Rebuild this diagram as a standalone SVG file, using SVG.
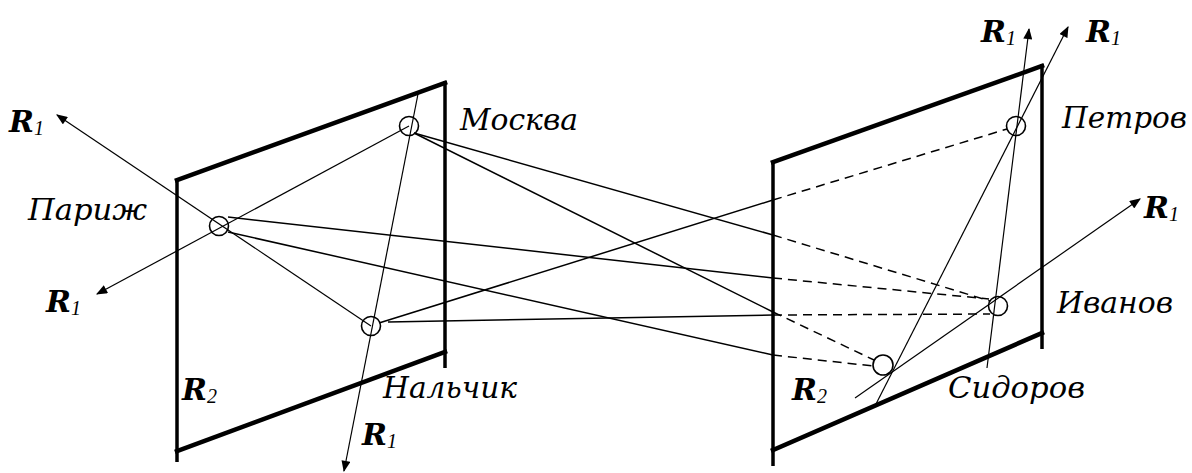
<svg xmlns="http://www.w3.org/2000/svg" width="1192" height="473" viewBox="0 0 1192 473">
<style>
.frame{stroke:#000;stroke-width:4.5;fill:none;stroke-linecap:square}
.vert{stroke:#000;stroke-width:3.5;fill:none}
.ray{stroke:#000;stroke-width:1.2;fill:none}
.con{stroke:#000;stroke-width:1.5;fill:none}
.dash{stroke:#000;stroke-width:1.5;fill:none;stroke-dasharray:9 6}
.node{stroke:#000;stroke-width:1.6;fill:none}
.lbl{font-family:"DejaVu Serif",serif;font-style:italic;font-size:30px;fill:#000}
.r{font-family:"DejaVu Serif",serif;font-style:italic;font-weight:bold;font-size:30px;fill:#000}
.sub{font-family:"Liberation Serif",serif;font-style:italic;font-weight:normal;font-size:20px}
</style>
<defs>
<marker id="arr" viewBox="0 0 10 8" refX="9" refY="4" markerWidth="12" markerHeight="9" orient="auto" markerUnits="userSpaceOnUse">
<path d="M0,0 L10,4 L0,8 z" fill="#000"/>
</marker>
</defs>

<g id="panel-left">
<line class="vert" x1="177" y1="180" x2="177" y2="462"/>
<line class="frame" x1="177" y1="180" x2="445" y2="83"/>
<line class="vert" x1="445" y1="81" x2="445" y2="368"/>
<line class="frame" x1="177" y1="451" x2="445" y2="352"/>
<text class="r" x="182" y="400">R<tspan class="sub" dy="3">2</tspan></text>
</g>

<g id="panel-right">
<line class="vert" x1="773" y1="162" x2="773" y2="466"/>
<line class="frame" x1="773" y1="162" x2="1042" y2="66"/>
<line class="vert" x1="1042" y1="64" x2="1042" y2="349"/>
<line class="frame" x1="773" y1="450" x2="1042" y2="333"/>
<text class="r" x="792" y="400">R<tspan class="sub" dy="3">2</tspan></text>
</g>

<g id="connectors">
<path class="ray" d="M371,326 L57,115" marker-end="url(#arr)"/>
<path class="ray" d="M409,126 L97,294" marker-end="url(#arr)"/>
<path class="ray" d="M418,94 L344,471" marker-end="url(#arr)"/>
<path class="ray" d="M987,368 L1029,29" marker-end="url(#arr)"/>
<path class="ray" d="M876,404 L1068,27" marker-end="url(#arr)"/>
<path class="ray" d="M855,398 L1140,199" marker-end="url(#arr)"/>

<path class="con" d="M414,133 L773,235"/>
<path class="dash" d="M773,235 L990,301"/>
<path class="con" d="M414,133 L773,312"/>
<path class="dash" d="M773,312 L874,360"/>
<path class="con" d="M228,217 L773,278"/>
<path class="dash" d="M773,278 L989,299"/>
<path class="con" d="M228,232 L773,355"/>
<path class="dash" d="M773,355 L873,366"/>
<path class="con" d="M388,322 L773,315"/>
<path class="dash" d="M773,315 L990,314"/>
<path class="con" d="M379,323 L773,200"/>
<path class="dash" d="M773,200 L1007,129"/>
</g>

<g id="node-parizh">
<circle class="node" cx="219" cy="226" r="9.5"/>
<text class="lbl" x="28" y="220" textLength="119" lengthAdjust="spacingAndGlyphs">Париж</text>
</g>
<g id="node-moskva">
<circle class="node" cx="409" cy="126" r="9.5"/>
<text class="lbl" x="460" y="130" textLength="118" lengthAdjust="spacingAndGlyphs">Москва</text>
</g>
<g id="node-nalchik">
<circle class="node" cx="371" cy="326" r="9.5"/>
<text class="lbl" x="383" y="398" textLength="134" lengthAdjust="spacingAndGlyphs">Нальчик</text>
</g>
<g id="node-petrov">
<circle class="node" cx="1016" cy="126" r="9.5"/>
<text class="lbl" x="1062" y="128" textLength="125" lengthAdjust="spacingAndGlyphs">Петров</text>
</g>
<g id="node-ivanov">
<circle class="node" cx="998" cy="306" r="9.5"/>
<text class="lbl" x="1057" y="313" textLength="116" lengthAdjust="spacingAndGlyphs">Иванов</text>
</g>
<g id="node-sidorov">
<circle class="node" cx="883" cy="365" r="10"/>
<text class="lbl" x="948" y="398" textLength="137" lengthAdjust="spacingAndGlyphs">Сидоров</text>
</g>

<g id="labels-r1">
<text class="r" x="9" y="132">R<tspan class="sub" dy="3">1</tspan></text>
<text class="r" x="46" y="312">R<tspan class="sub" dy="3">1</tspan></text>
<text class="r" x="362" y="445">R<tspan class="sub" dy="3">1</tspan></text>
<text class="r" x="981" y="42">R<tspan class="sub" dy="3">1</tspan></text>
<text class="r" x="1086" y="42">R<tspan class="sub" dy="3">1</tspan></text>
<text class="r" x="1144" y="218">R<tspan class="sub" dy="3">1</tspan></text>
</g>
</svg>
